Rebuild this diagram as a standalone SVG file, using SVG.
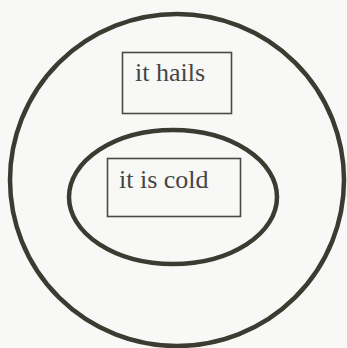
<svg xmlns="http://www.w3.org/2000/svg" width="347" height="348" viewBox="0 0 347 348">
<style>
.ring{fill:none;stroke:#3b3b31;stroke-width:4.5}
.box{fill:none;stroke:#4a4a44;stroke-width:1.6}
.lbl{font-family:"Liberation Serif","Times New Roman",serif;font-size:26px;fill:#454545}
</style>
<rect width="347" height="348" fill="#f8f8f6"/>
<g id="outer"><ellipse class="ring" cx="177" cy="180" rx="167" ry="166"/></g>
<g id="inner"><ellipse class="ring" cx="173" cy="197" rx="104" ry="67"/></g>
<g id="hails"><rect class="box" x="122.5" y="52.5" width="109" height="61"/><text class="lbl" x="135" y="81">it hails</text></g>
<g id="cold"><rect class="box" x="107.5" y="158.5" width="133" height="58"/><text class="lbl" x="119" y="188">it is cold</text></g>
<g id="connectors"/>
</svg>
